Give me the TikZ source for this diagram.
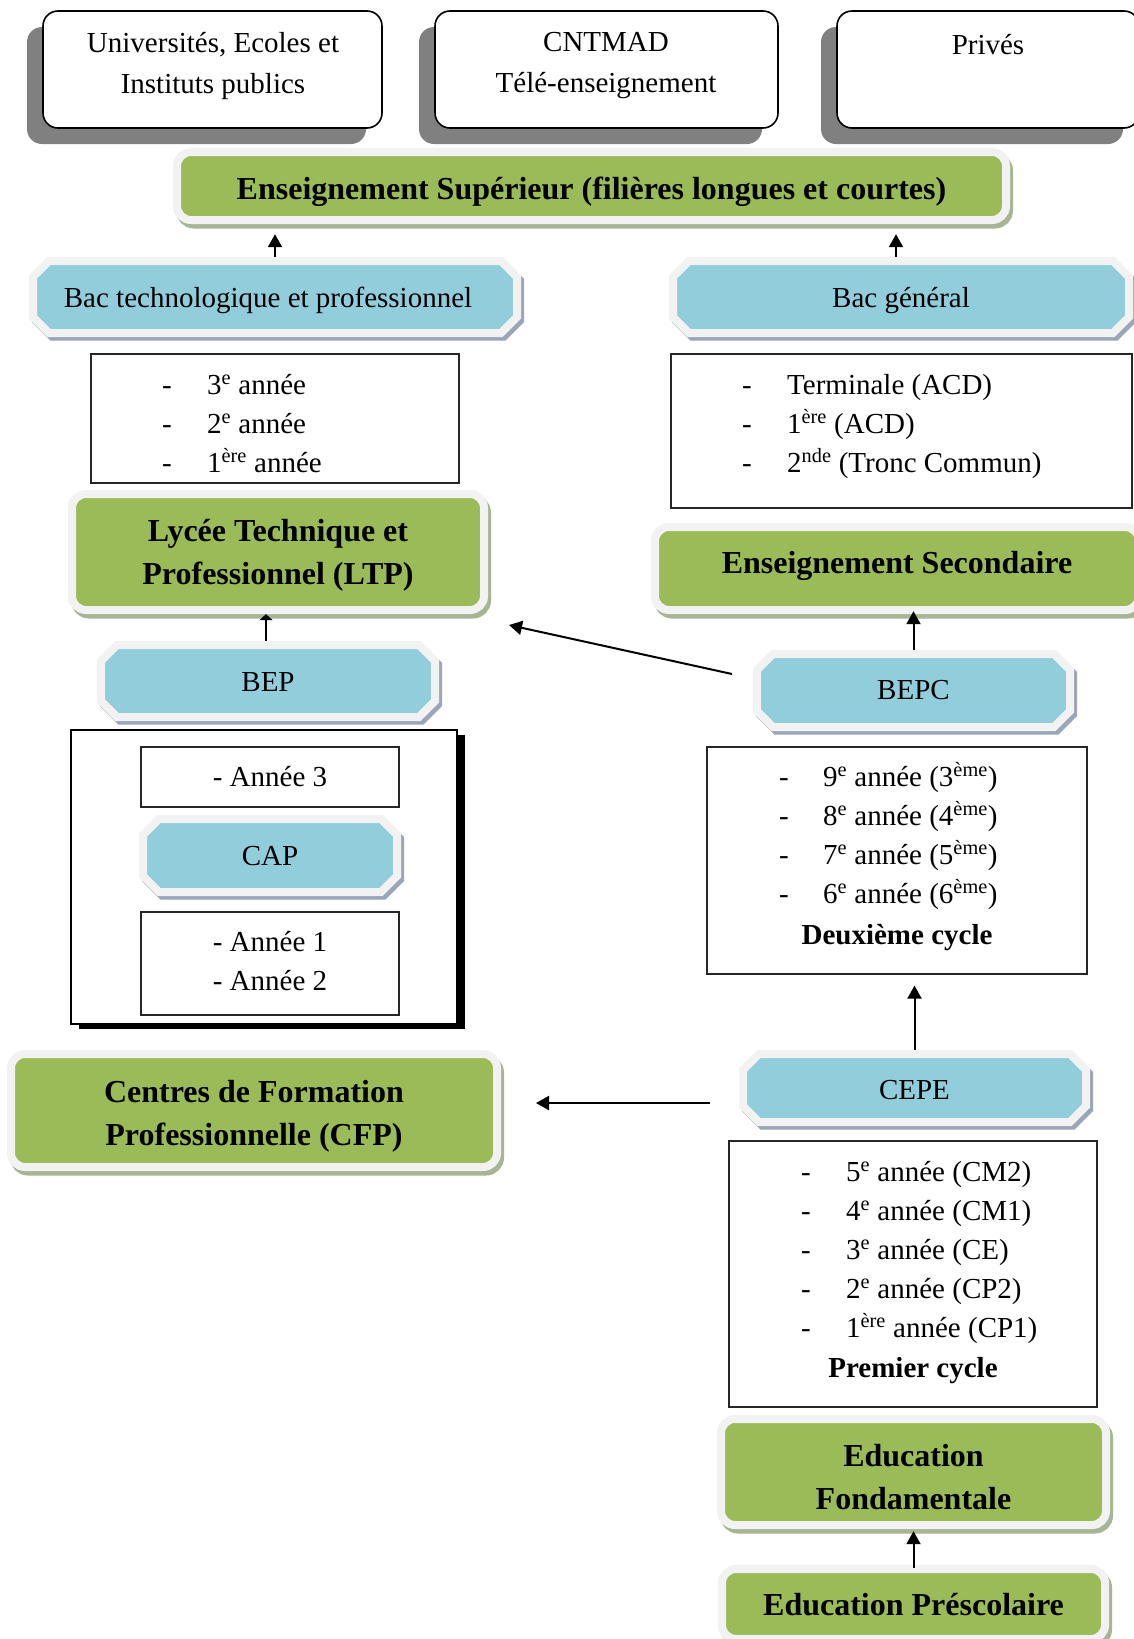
\documentclass[tikz,border=0pt]{standalone}
\usepackage{fontspec}
\setmainfont{Liberation Serif}
\usetikzlibrary{arrows.meta}
\definecolor{grn}{RGB}{155,187,89}
\definecolor{cyn}{RGB}{146,205,220}
\definecolor{lite}{RGB}{242,242,242}
\definecolor{gsh}{RGB}{168,180,148}
\definecolor{csh}{RGB}{155,165,185}
\definecolor{tsh}{RGB}{128,128,128}
\tikzset{
  txt/.style={font=\fontsize{29}{39}\selectfont, inner sep=0pt, align=center},
  ttxt/.style={font=\fontsize{29}{41}\selectfont, inner sep=0pt, align=center},
  ltxt/.style={font=\fontsize{29}{39}\selectfont, inner sep=0pt},
  bltxt/.style={font=\bfseries\fontsize{29}{39}\selectfont, inner sep=0pt, align=center},
  btxt/.style={font=\bfseries\fontsize{32}{43}\selectfont, inner sep=0pt, align=center},
  gshad/.style={draw=gsh, line width=8pt, rounded corners=14pt},
  gmain/.style={draw=lite, fill=grn, line width=8pt, rounded corners=14pt},
  cshad/.style={draw=csh, line width=8pt, shift={(3pt,-3.5pt)}},
  cmain/.style={draw=lite, fill=cyn, line width=8pt},
  topbox/.style={draw=black, fill=white, line width=1.6pt, rounded corners=15pt, inner sep=0pt},
  listbox/.style={draw=black!85, line width=1.2pt, inner sep=0pt},
  arr/.style={line width=2pt, -{Triangle[length=13pt,width=14pt]}},
}
% #1 name, #2-#5 box, #6 text vertical shift (down), #7 text
\newcommand\greenbox[7]{%
  \draw[gshad] ({#2+3},{#3+4.5}) rectangle ({#4+3},{#5+4.5});
  \draw[gmain] (#2,#3) rectangle (#4,#5);
  \node[btxt, minimum width={(#4-#2)*1pt}, minimum height={(#5-#3)*1pt}, text depth=0pt, yshift={-(#6)*1pt}] (#1) at ({(#2+#4)/2},{(#3+#5)/2}) {#7};
}
% #1 name, #2-#5 box, #6 text shift (x,y down), #7 text
\newcommand\cyanbox[7]{%
  \draw[cshad] ({#2+16},#3) -- ({#4-16},#3) -- (#4,{#3+16}) -- (#4,{#5-16}) -- ({#4-16},#5) -- ({#2+16},#5) -- (#2,{#5-16}) -- (#2,{#3+16}) -- cycle;
  \draw[cmain] ({#2+16},#3) -- ({#4-16},#3) -- (#4,{#3+16}) -- (#4,{#5-16}) -- ({#4-16},#5) -- ({#2+16},#5) -- (#2,{#5-16}) -- (#2,{#3+16}) -- cycle;
  \node[txt, minimum width={(#4-#2)*1pt}, minimum height={(#5-#3)*1pt}] (#1) at ({(#2+#4)/2},{(#3+#5)/2}) {};
  \node[txt] (#1T) at ($(#1.center)+(#6)$) {#7};
}
\usetikzlibrary{calc}
\begin{document}
\begin{tikzpicture}[x=1pt, y=-1pt]
\useasboundingbox (0,0) rectangle (1134,1639);
\fill[white] (0,0) rectangle (1134,1639);

% top boxes
\fill[tsh, rounded corners=15pt] (27,27) rectangle (366,144);
\node[topbox, minimum width=339pt, minimum height=117pt] (univ) at (212.5,69.5) {};
\node[ttxt] (univT) at (213,66) {Universités, Ecoles et\\Instituts publics};
\fill[tsh, rounded corners=15pt] (419,27) rectangle (762,144);
\node[topbox, minimum width=343pt, minimum height=117pt] (cnt) at (606.5,69.5) {};
\node[ttxt] (cntT) at (606,66) {CNTMAD\\Télé-enseignement};
\fill[tsh, rounded corners=15pt] (821,27) rectangle (1123,144);
\node[topbox, minimum width=302pt, minimum height=117pt] (priv) at (988,69.5) {};
\node[ttxt] (privT) at (988,45) {Privés};

% green boxes
\greenbox{sup}{177}{152}{1006}{220}{2}{Enseignement Supérieur (filières longues et courtes)}
\greenbox{ltp}{72}{494}{484}{610}{0}{Lycée Technique et\\Professionnel (LTP)}
\greenbox{sec}{655}{527}{1139}{610}{-6}{Enseignement Secondaire}
\greenbox{cfp}{11}{1054}{497}{1167}{2}{Centres de Formation\\Professionnelle (CFP)}
\greenbox{fond}{721}{1419}{1106}{1525}{5}{Education\\Fondamentale}
\greenbox{pres}{722}{1569}{1105}{1639}{0}{Education Préscolaire}

% cyan boxes
\cyanbox{bact}{33}{261}{517}{333}{-7,3}{Bac technologique et professionnel}
\cyanbox{bacg}{673}{261}{1129}{333}{0,4}{Bac général}
\cyanbox{bep}{101}{645}{435}{717}{0,1}{BEP}
\cyanbox{bepc}{757}{654}{1070}{727}{0,0}{BEPC}
\cyanbox{cepe}{743}{1054}{1086}{1122}{0,2}{CEPE}

% list boxes
\node[listbox, minimum width=368pt, minimum height=129pt] (l1) at (275,418.5) {};
\node[ltxt, anchor=base west] (l1T) at (162,394) {\begin{tabular}[t]{@{}p{45pt}@{}l@{}}-&3\textsuperscript{e} année\\-&2\textsuperscript{e} année\\-&1\textsuperscript{ère} année\end{tabular}};

\node[listbox, minimum width=461pt, minimum height=154pt] (l2) at (901.5,431) {};
\node[ltxt, anchor=base west] (l2T) at (742,394) {\begin{tabular}[t]{@{}p{45pt}@{}l@{}}-&Terminale (ACD)\\-&1\textsuperscript{ère} (ACD)\\-&2\textsuperscript{nde} (Tronc Commun)\end{tabular}};

\node[listbox, minimum width=380pt, minimum height=227pt] (l3) at (897,860.5) {};
\node[ltxt, anchor=base west] (l3T) at (779,786) {\begin{tabular}[t]{@{}p{44pt}@{}l@{}}-&9\textsuperscript{e} année (3\textsuperscript{ème})\\-&8\textsuperscript{e} année (4\textsuperscript{ème})\\-&7\textsuperscript{e} année (5\textsuperscript{ème})\\-&6\textsuperscript{e} année (6\textsuperscript{ème})\end{tabular}};
\node[bltxt] (c2) at (897,938) {Deuxième cycle};

\node[listbox, minimum width=368pt, minimum height=266pt] (l4) at (913,1274) {};
\node[ltxt, anchor=base west] (l4T) at (801,1181) {\begin{tabular}[t]{@{}p{45pt}@{}l@{}}-&5\textsuperscript{e} année (CM2)\\-&4\textsuperscript{e} année (CM1)\\-&3\textsuperscript{e} année (CE)\\-&2\textsuperscript{e} année (CP2)\\-&1\textsuperscript{ère} année (CP1)\end{tabular}};
\node[bltxt] (c1) at (913,1371) {Premier cycle};

% CAP container
\fill[black] (79,734.5) rectangle (465,1029);
\node[draw=black, fill=white, line width=2pt, inner sep=0pt, minimum width=386pt, minimum height=294pt] (capbox) at (264,877) {};
\node[listbox, minimum width=258pt, minimum height=60pt] (a3) at (270,777) {};
\node[txt] (a3T) at (270,777) {- Année 3};
\cyanbox{cap}{143}{819}{397}{892}{0,1}{CAP}
\node[listbox, minimum width=258pt, minimum height=103pt] (a12) at (270,963.5) {};
\node[txt] (a12T) at (270,961) {- Année 1\\- Année 2};

% arrows
\draw[arr, shorten <=4pt, shorten >=12pt] (bact.north) -- (bact.north |- sup.south);
\draw[arr, shorten <=4pt, shorten >=12pt] ([xshift=-5pt]bacg.north) -- ([xshift=-5pt]bacg.north |- sup.south);
\draw[line width=2pt, -{Triangle[length=6pt,width=13pt]}, shorten <=4pt, shorten >=4pt] ([xshift=-2pt]bep.north) -- ([xshift=-2pt]bep.north |- ltp.south);
\draw[arr, shorten <=4pt, shorten >=7pt] (bepc.north) -- (bepc.north |- sec.south);
\coordinate (dgA) at (732,674);
\coordinate (dgB) at (509,625);
\draw[arr] (dgA) -- (dgB);
\draw[arr, shorten <=4pt, shorten >=11pt] (cepe.north) -- (cepe.north |- l3.south);
\coordinate (hA) at (710,1103);
\coordinate (hB) at (536,1103);
\draw[arr] (hA) -- (hB);
\draw[arr, shorten <=1pt, shorten >=1pt] (pres.north) -- (pres.north |- fond.south);
\end{tikzpicture}
\end{document}
